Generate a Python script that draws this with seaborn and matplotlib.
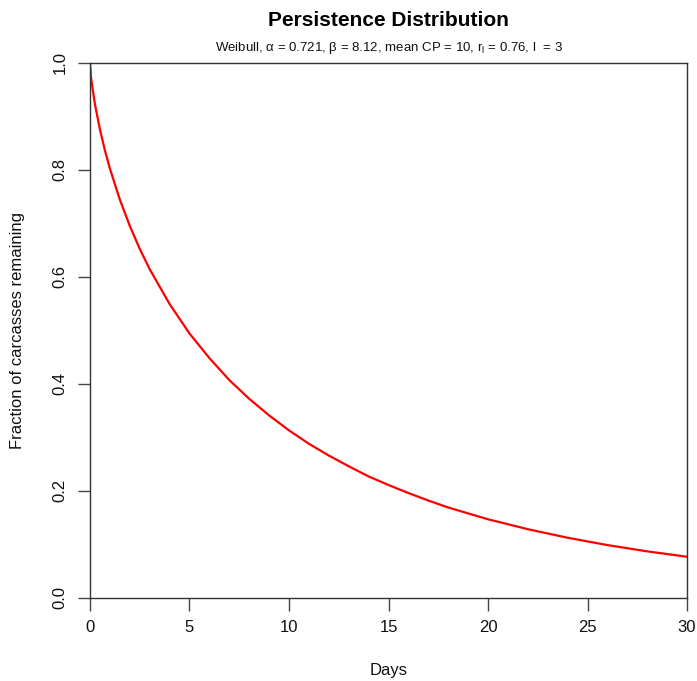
import pandas as pd
import seaborn as sns
import matplotlib.pyplot as plt

# Values
days = [0, 0.05, 0.1, 0.25, 0.5, 0.75, 1, 1.5, 2, 2.5, 3, 4, 5, 6, 7, 8, 9, 10,
        11, 12, 13, 14, 15, 16, 17, 18, 19, 20, 22, 24, 26, 28, 30]
fraction = [1.0, 0.973, 0.959, 0.922, 0.875, 0.836, 0.802, 0.744, 0.695, 0.652,
            0.614, 0.549, 0.494, 0.448, 0.407, 0.372, 0.341, 0.313, 0.288,
            0.266, 0.246, 0.227, 0.211, 0.196, 0.182, 0.169, 0.158, 0.147,
            0.1285, 0.1125, 0.0988, 0.0871, 0.077]
x_ticks = [0, 5, 10, 15, 20, 25, 30]
y_ticks = [0.0, 0.2, 0.4, 0.6, 0.8, 1.0]

df = pd.DataFrame({'Days': days, 'Fraction': fraction})

sns.set_style('white')
plt.rcParams['font.family'] = ['Liberation Sans', 'DejaVu Sans']
plt.rcParams['text.color'] = '#111111'
plt.rcParams['axes.labelcolor'] = '#111111'
plt.rcParams['xtick.color'] = '#111111'
plt.rcParams['ytick.color'] = '#111111'

fig = plt.figure(figsize=(6.97, 6.81), dpi=100)
ax = fig.add_axes([0.1291, 0.1219, 0.8566, 0.7863])

sns.lineplot(data=df, x='Days', y='Fraction', color='red', linewidth=1.6, ax=ax)

ax.set_xlim(0, 30)
ax.set_ylim(0, 1)
ax.set_xticks(x_ticks)
ax.set_xticklabels([str(t) for t in x_ticks])
ax.set_yticks(y_ticks)
ax.set_yticklabels([f'{t:.1f}' for t in y_ticks], rotation=90, va='center')
ax.tick_params(axis='both', direction='out', length=9, width=1, color='#444444',
               labelsize=12, pad=7, left=True, bottom=True)

for s in ax.spines.values():
    s.set_visible(True)
    s.set_color('#333333')
    s.set_linewidth(1)

ax.set_xlabel('Days', fontsize=12, labelpad=20)
ax.set_ylabel('Fraction of carcasses remaining', fontsize=12, labelpad=20)

fig.text(0.5575, 0.970, 'Persistence Distribution', ha='center', va='center',
         fontsize=15, fontweight='bold', color='black')
fig.text(0.5575, 0.929,
         'Weibull, \u03b1 = 0.721, \u03b2 = 8.12, mean CP = 10, r$_\\mathregular{l}$ = 0.76, l  = 3',
         ha='center', va='center', fontsize=9.5)

fig.savefig('out.png', dpi=100)
